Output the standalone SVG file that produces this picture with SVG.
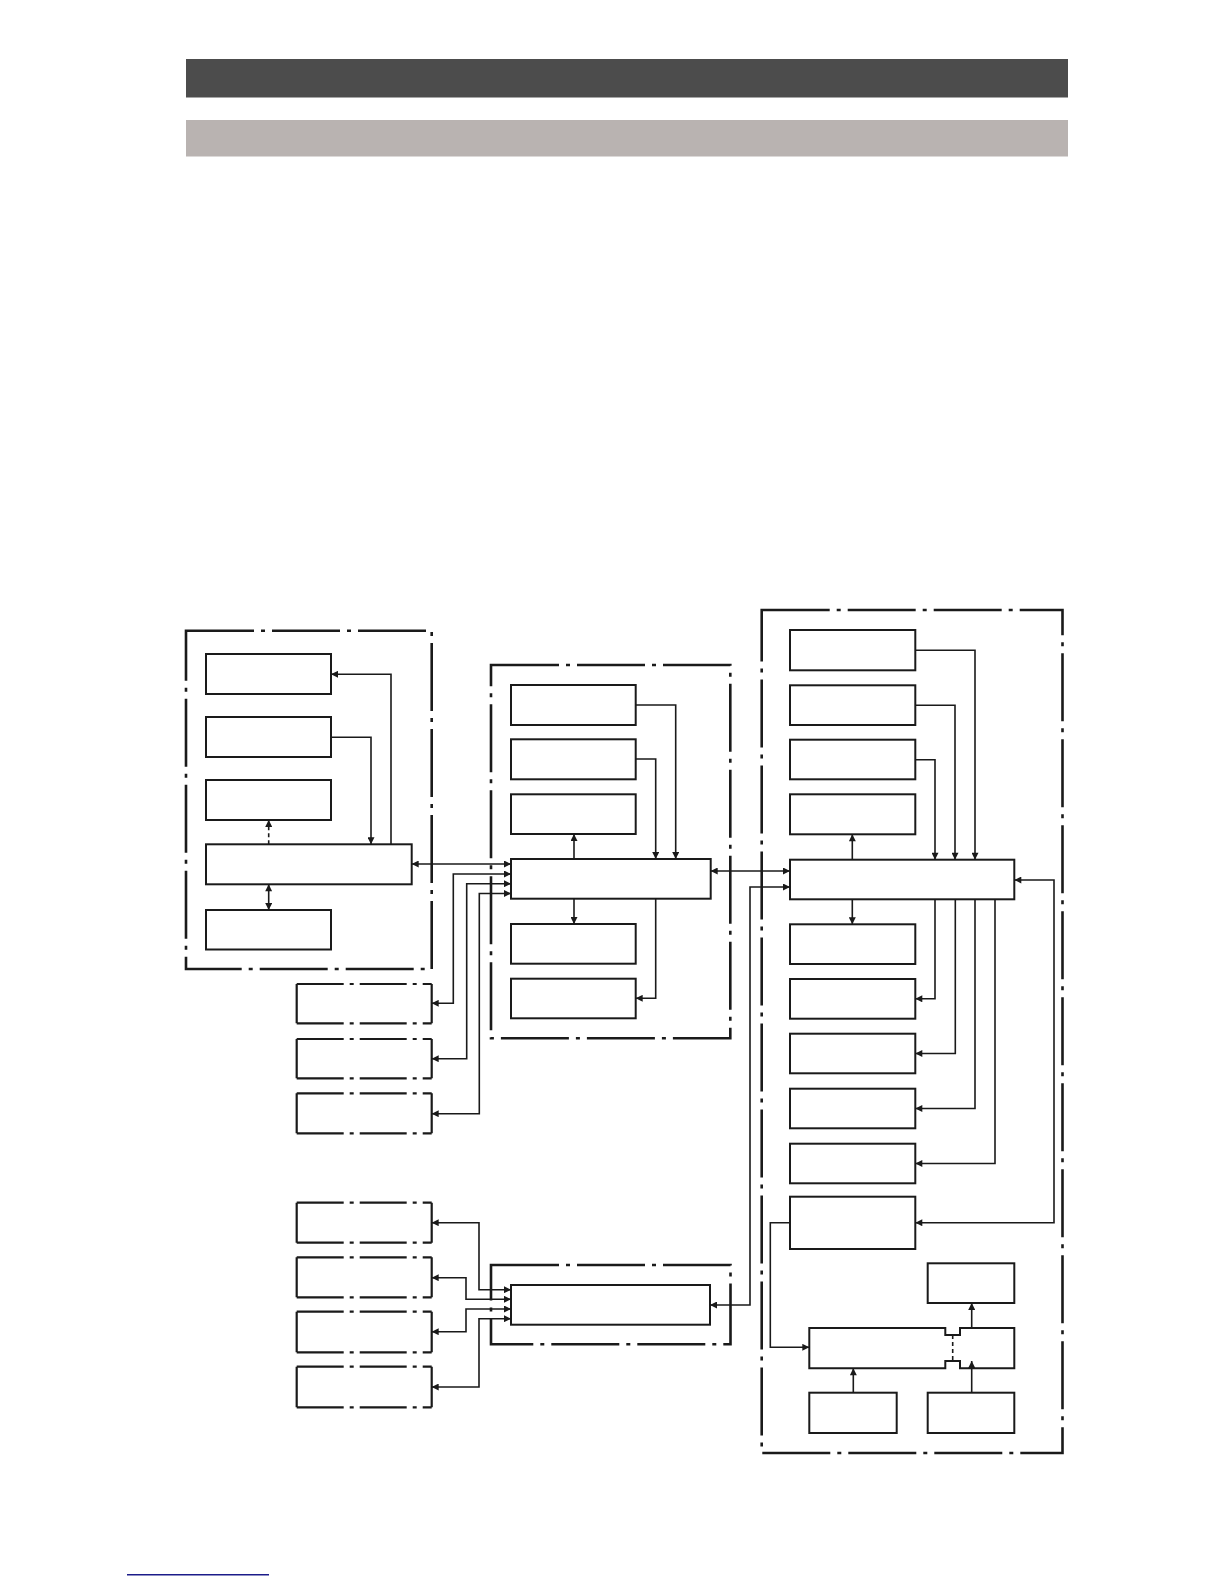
<svg xmlns="http://www.w3.org/2000/svg" width="1224" height="1584" viewBox="0 0 1224 1584">
<style>
.bx{fill:#fff;stroke:#1a1a1a;stroke-width:2}
.grp{fill:none;stroke:#1a1a1a;stroke-width:2.6;stroke-dasharray:68 7 4 7}
.ddl{fill:none;stroke:#1a1a1a;stroke-width:2.2;stroke-dasharray:47 6 4 6}
.sd{fill:none;stroke:#1a1a1a;stroke-width:2.2}
.c{fill:none;stroke:#1a1a1a;stroke-width:1.6}
.e{marker-end:url(#ah)}
.d{marker-start:url(#ah);marker-end:url(#ah)}
.dash{stroke-dasharray:4 3}
</style>
<defs>
<marker id="ah" viewBox="0 0 10 10" refX="10" refY="5" markerWidth="11" markerHeight="7" markerUnits="userSpaceOnUse" orient="auto-start-reverse">
<path d="M0,0 L10,5 L0,10 z" fill="#1a1a1a"/>
</marker>
</defs>
<rect x="0" y="0" width="1224" height="1584" fill="#fff"/>
<rect x="186" y="59" width="882" height="38.5" fill="#4c4c4c"/>
<rect x="186" y="120" width="882" height="36.5" fill="#b9b3b1"/>

<g id="group-borders">
<rect id="grp-left" class="grp" x="186" y="630.7" width="245.7" height="338.3"/>
<rect id="grp-mid" class="grp" x="491" y="665" width="239.3" height="373.3"/>
<rect id="grp-right" class="grp" x="761.7" y="610" width="300.8" height="843"/>
<rect id="grp-bottom" class="grp" x="491" y="1265" width="239.5" height="79.3"/>
</g>

<g id="left-group-nodes">
<rect id="l1" class="bx" x="206" y="654" width="125" height="40"/>
<rect id="l2" class="bx" x="206" y="717" width="125" height="40"/>
<rect id="l3" class="bx" x="206" y="780" width="125" height="40"/>
<rect id="l4" class="bx" x="206" y="844.3" width="205.7" height="40"/>
<rect id="l5" class="bx" x="206" y="910" width="125" height="39.5"/>
</g>

<g id="mid-group-nodes">
<rect id="m1" class="bx" x="511" y="685" width="124.7" height="40"/>
<rect id="m2" class="bx" x="511" y="739.3" width="124.7" height="40"/>
<rect id="m3" class="bx" x="511" y="794.3" width="124.7" height="39.7"/>
<rect id="m4" class="bx" x="511" y="859" width="199.7" height="39.7"/>
<rect id="m5" class="bx" x="511" y="924" width="124.7" height="39.7"/>
<rect id="m6" class="bx" x="511" y="978.7" width="124.7" height="39.6"/>
</g>

<g id="right-group-nodes">
<rect id="r1" class="bx" x="790" y="630" width="125.3" height="40.3"/>
<rect id="r2" class="bx" x="790" y="685.3" width="125.3" height="39.7"/>
<rect id="r3" class="bx" x="790" y="739.7" width="125.3" height="39.6"/>
<rect id="r4" class="bx" x="790" y="794.3" width="125.3" height="40"/>
<rect id="r-main" class="bx" x="790" y="859.7" width="224.3" height="39.6"/>
<rect id="r5" class="bx" x="790" y="924.3" width="125.3" height="39.7"/>
<rect id="r6" class="bx" x="790" y="979" width="125.3" height="39.7"/>
<rect id="r7" class="bx" x="790" y="1033.7" width="125.3" height="39.6"/>
<rect id="r8" class="bx" x="790" y="1088.7" width="125.3" height="39.6"/>
<rect id="r9" class="bx" x="790" y="1143.7" width="125.3" height="39.6"/>
<rect id="r10" class="bx" x="790" y="1196.7" width="125.3" height="52.3"/>
<rect id="r11" class="bx" x="927.7" y="1263.3" width="86.6" height="39.7"/>
<g id="r12">
<path class="bx" d="M809.3,1328 H945.3 V1335 H960 V1328 H1014.3 V1368.3 H960 V1361 H945.3 V1368.3 H809.3 Z"/>
<path class="c dash" d="M952.7,1335 V1361"/>
</g>
<rect id="r13" class="bx" x="809.3" y="1392.7" width="87.4" height="40.3"/>
<rect id="r14" class="bx" x="927.7" y="1392.7" width="86.6" height="40.3"/>
</g>

<g id="external-upper">
<g id="e1"><path class="sd" d="M296.7,984 V1023.3 M431.7,984 V1023.3"/><path class="ddl" d="M296.7,984 H431.7 M296.7,1023.3 H431.7"/></g>
<g id="e2"><path class="sd" d="M296.7,1039 V1078.3 M431.7,1039 V1078.3"/><path class="ddl" d="M296.7,1039 H431.7 M296.7,1078.3 H431.7"/></g>
<g id="e3"><path class="sd" d="M296.7,1093.3 V1133.3 M431.7,1093.3 V1133.3"/><path class="ddl" d="M296.7,1093.3 H431.7 M296.7,1133.3 H431.7"/></g>
</g>

<g id="external-lower">
<g id="e4"><path class="sd" d="M296.7,1202.7 V1242.7 M431.7,1202.7 V1242.7"/><path class="ddl" d="M296.7,1202.7 H431.7 M296.7,1242.7 H431.7"/></g>
<g id="e5"><path class="sd" d="M296.7,1257.3 V1297.3 M431.7,1257.3 V1297.3"/><path class="ddl" d="M296.7,1257.3 H431.7 M296.7,1297.3 H431.7"/></g>
<g id="e6"><path class="sd" d="M296.7,1311.7 V1352.3 M431.7,1311.7 V1352.3"/><path class="ddl" d="M296.7,1311.7 H431.7 M296.7,1352.3 H431.7"/></g>
<g id="e7"><path class="sd" d="M296.7,1366.7 V1407.3 M431.7,1366.7 V1407.3"/><path class="ddl" d="M296.7,1366.7 H431.7 M296.7,1407.3 H431.7"/></g>
</g>

<g id="bottom-node">
<rect id="b1" class="bx" x="511" y="1285" width="199" height="39.7"/>
</g>

<g id="connectors">
<path class="c e" d="M391,844.3 V674.3 H331"/>
<path class="c e" d="M331,737.3 H371 V844.3"/>
<path class="c e dash" d="M268.7,844.3 V820"/>
<path class="c d" d="M268.7,884.3 V910"/>
<path class="c d" d="M411.7,864 H511"/>
<path class="c d" d="M431.7,1003.3 H453.3 V874 H511"/>
<path class="c d" d="M431.7,1058.7 H466.7 V883.7 H511"/>
<path class="c d" d="M431.7,1113.7 H479.3 V893.5 H511"/>
<path class="c e" d="M635.7,705 H675.7 V859"/>
<path class="c e" d="M635.7,759 H655.7 V859"/>
<path class="c e" d="M574,859 V834"/>
<path class="c e" d="M574,898.7 V924"/>
<path class="c e" d="M655.7,898.7 V998.3 H635.7"/>
<path class="c d" d="M710.7,871 H790"/>
<path class="c d" d="M710,1305 H750 V887 H790"/>
<path class="c e" d="M915.3,650.3 H975 V859.7"/>
<path class="c e" d="M915.3,705.3 H955 V859.7"/>
<path class="c e" d="M915.3,759.7 H935 V859.7"/>
<path class="c e" d="M852.3,859.7 V834.3"/>
<path class="c e" d="M852.3,899.3 V924.3"/>
<path class="c e" d="M935,899.3 V998.8 H915.3"/>
<path class="c e" d="M955.3,899.3 V1053.5 H915.3"/>
<path class="c e" d="M975,899.3 V1108.5 H915.3"/>
<path class="c e" d="M995,899.3 V1163.5 H915.3"/>
<path class="c d" d="M915.3,1222.7 H1054 V880 H1014.3"/>
<path class="c e" d="M790,1222.7 H770.3 V1347.3 H809.3"/>
<path class="c e" d="M971.7,1328 V1303"/>
<path class="c e" d="M853.3,1392.7 V1368.3"/>
<path class="c e" d="M971.7,1392.7 V1361"/>
<path class="c d" d="M431.7,1222.7 H479 V1289.7 H511"/>
<path class="c d" d="M431.7,1277.7 H466 V1299.3 H511"/>
<path class="c d" d="M431.7,1331.7 H466 V1309 H511"/>
<path class="c d" d="M431.7,1387 H479 V1318.7 H511"/>
</g>

<line x1="127" y1="1574.7" x2="269" y2="1574.7" stroke="#1c1c8a" stroke-width="1.5"/>
</svg>
